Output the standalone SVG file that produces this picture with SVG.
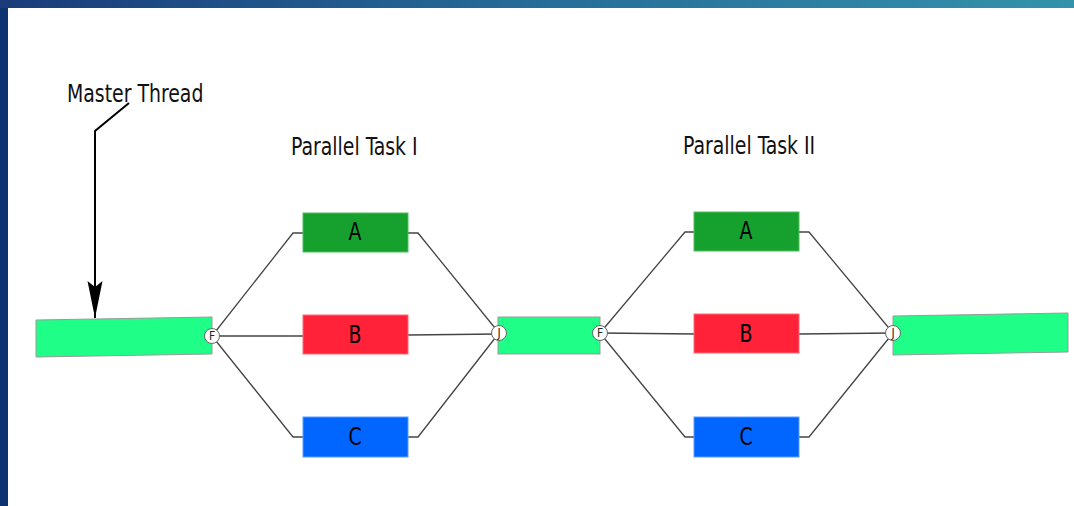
<svg xmlns="http://www.w3.org/2000/svg" width="1074" height="506" viewBox="0 0 1074 506">
<defs>
<linearGradient id="topbar" x1="0" y1="0" x2="1" y2="0">
<stop offset="0" stop-color="#1a3c7a"/>
<stop offset="0.5" stop-color="#266c98"/>
<stop offset="1" stop-color="#3393ab"/>
</linearGradient>
<marker id="arrow" viewBox="0 0 40 16" refX="38" refY="8" markerWidth="40" markerHeight="16" markerUnits="userSpaceOnUse" orient="auto">
<path d="M38,8 L1,0.5 L7,8 L1,15.5 Z" fill="#000"/>
</marker>
<style>
.lbl{font-family:"DejaVu Sans Condensed","DejaVu Sans",sans-serif;font-size:21px;fill:#111;}
.box{font-family:"DejaVu Sans Condensed","DejaVu Sans",sans-serif;font-size:21px;fill:#000;text-anchor:middle;}
.conn{fill:none;stroke:#444;stroke-width:1.3;}
.thread{fill:#1fff88;stroke:#9a9a9a;stroke-width:1;}
.node{fill:#fff;stroke:#666;stroke-width:1;}
.ntx{font-family:"DejaVu Sans Condensed","DejaVu Sans",sans-serif;font-size:12px;fill:#222;text-anchor:middle;}
.a{fill:#16a12f;stroke:#4fbf5f;stroke-width:1;}
.b{fill:#ff2238;stroke:#ff6a76;stroke-width:1;}
.c{fill:#0066ff;stroke:#5a9cff;stroke-width:1;}
</style>
</defs>
<rect x="0" y="0" width="1074" height="506" fill="#fff"/>
<rect x="0" y="0" width="1074" height="8" fill="url(#topbar)"/>
<rect x="0" y="8" width="8" height="498" fill="#0d3470"/>

<g id="connectors">
<path class="conn" d="M212,336 L293,233 L303,233"/>
<path class="conn" d="M212,336 L303,336"/>
<path class="conn" d="M212,336 L293,437 L303,437"/>
<path class="conn" d="M408,233 L418,233 L499,333"/>
<path class="conn" d="M408,335 L499,334"/>
<path class="conn" d="M408,437 L418,437 L499,333"/>
<path class="conn" d="M600,333 L685,232 L695,232"/>
<path class="conn" d="M600,333 L695,334"/>
<path class="conn" d="M600,333 L685,437 L695,437"/>
<path class="conn" d="M799,232 L809,232 L893,333"/>
<path class="conn" d="M799,334 L893,333"/>
<path class="conn" d="M799,437 L809,437 L893,333"/>
<path d="M129,103 L95,131 L95,318" fill="none" stroke="#000" stroke-width="2" marker-end="url(#arrow)"/>
</g>

<g id="master-label"><text class="lbl" transform="translate(67,102) scale(1,1.15)">Master Thread</text></g>
<g id="task1-label"><text class="lbl" transform="translate(291,155) scale(1,1.15)">Parallel Task I</text></g>
<g id="task2-label"><text class="lbl" transform="translate(683,154) scale(1,1.15)">Parallel Task II</text></g>

<g id="master-thread-1"><polygon class="thread" points="36,320 212,317 212,354 36,357"/></g>
<g id="master-thread-2"><rect class="thread" x="498" y="317" width="102" height="37"/></g>
<g id="master-thread-3"><polygon class="thread" points="893,316 1068,313 1068,352 893,355"/></g>

<g id="task1-A"><rect class="a" x="303" y="213" width="105" height="39"/><text class="box" transform="translate(355,240) scale(1,1.15)">A</text></g>
<g id="task1-B"><rect class="b" x="303" y="315" width="105" height="39"/><text class="box" transform="translate(355,343) scale(1,1.15)">B</text></g>
<g id="task1-C"><rect class="c" x="303" y="417" width="105" height="40"/><text class="box" transform="translate(355,445) scale(1,1.15)">C</text></g>
<g id="task2-A"><rect class="a" x="694" y="212" width="105" height="39"/><text class="box" transform="translate(746,239) scale(1,1.15)">A</text></g>
<g id="task2-B"><rect class="b" x="694" y="314" width="105" height="39"/><text class="box" transform="translate(746,342) scale(1,1.15)">B</text></g>
<g id="task2-C"><rect class="c" x="694" y="417" width="105" height="40"/><text class="box" transform="translate(746,445) scale(1,1.15)">C</text></g>

<g id="fork-1"><circle class="node" cx="212" cy="336" r="7.5"/><text class="ntx" x="212" y="340">F</text></g>
<g id="join-1"><circle class="node" cx="499" cy="333" r="7.5"/><text class="ntx" x="499" y="337">J</text></g>
<g id="fork-2"><circle class="node" cx="600" cy="333" r="7.5"/><text class="ntx" x="600" y="337">F</text></g>
<g id="join-2"><circle class="node" cx="893" cy="333" r="7.5"/><text class="ntx" x="893" y="337">J</text></g>
</svg>
